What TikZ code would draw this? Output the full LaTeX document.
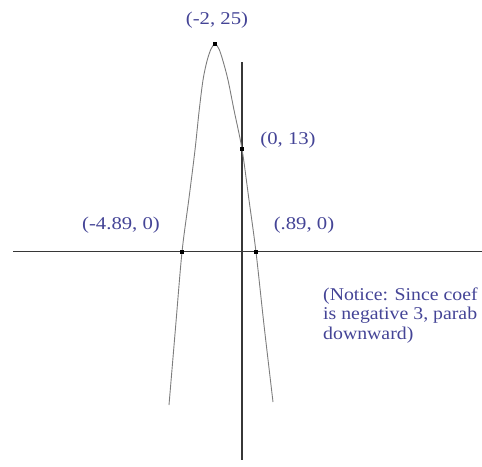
\documentclass[tikz,border=0pt]{standalone}
\usepackage{fontspec}
\setmainfont{Liberation Serif}
\newfontfamily\lblfont[FakeStretch=1.15]{Liberation Serif}
\newfontfamily\notefont[FakeStretch=1.1]{Liberation Serif}
\definecolor{lbl}{RGB}{68,68,150}
\definecolor{axis}{RGB}{55,55,55}
\definecolor{curve}{RGB}{125,125,125}
\begin{document}
\begin{tikzpicture}[x=1pt,y=-1pt,
  axisline/.style={draw=axis,line width=1.3pt},
  curveline/.style={draw=curve,line width=0.9pt},
  ptdot/.style={fill=black,inner sep=0pt,minimum size=3.6pt,rectangle},
  lbltext/.style={text=lbl,font=\lblfont\fontsize{18}{19.5}\selectfont,inner sep=0pt},
  notetext/.style={text=lbl,font=\notefont\fontsize{18}{19.5}\selectfont,inner sep=0pt}]
\useasboundingbox (0,0) rectangle (482,466);
% axes
\coordinate (xl) at (13,251.5);
\coordinate (xr) at (482,251.5);
\coordinate (yt) at (242,62);
\coordinate (yb) at (242,460);
\draw[axisline] (xl) -- (xr);
\draw[axisline] (yt) -- (yb);
% parabola
\draw[curveline] plot[smooth,tension=0.5] coordinates {(169,405) (175.5,328) (182,252) (189,198) (195,150) (199,112) (203,80) (207,61) (211,49) (215,44) (219,49) (223,61) (228,80) (234,110) (242,149) (249,200) (256,252) (264,325) (273,402)};
% points
\node[ptdot] (vtx) at (215,44) {};
\node[ptdot] (yint) at (242,149) {};
\node[ptdot] (rl) at (182,252) {};
\node[ptdot] (rr) at (256,252) {};
% labels
\node[lbltext] (lv) at (217,20) {(-2, 25)};
\node[lbltext] (ly) at (288,140.5) {(0, 13)};
\node[lbltext] (lrl) at (121,225) {(-4.89, 0)};
\node[lbltext] (lrr) at (304,225) {(.89, 0)};
\node[notetext,anchor=base west,align=left] (note) at (323,339) {(Notice: Since coef\\is negative 3, parab\\downward)};
\end{tikzpicture}
\end{document}
